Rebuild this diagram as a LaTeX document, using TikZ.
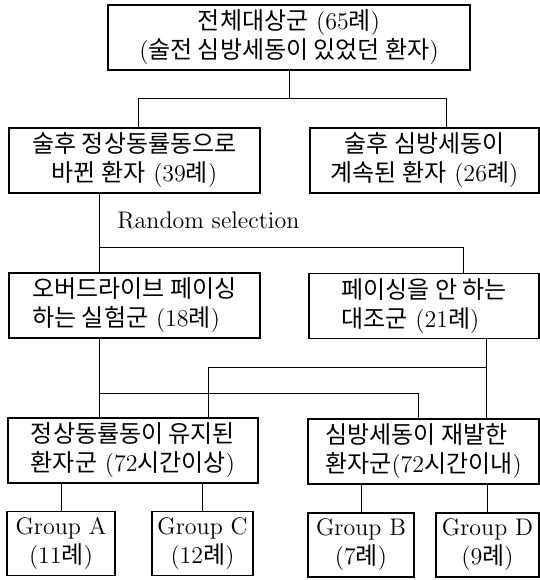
\documentclass[tikz,border=0pt]{standalone}
\usepackage{fontspec}
\newfontfamily\krfont{Noto Sans CJK KR}
\newcommand{\K}[1]{{\krfont #1}}
\tikzset{
  box/.style={draw, line width=0.65pt, inner sep=0pt, minimum height=32.5pt,
    align=center, font=\fontsize{12}{14.5}\selectfont},
  grp/.style={box, minimum height=32pt},
  wire/.style={line width=0.5pt}
}
\begin{document}
\begin{tikzpicture}[x=0.5pt,y=-0.5pt]
      \useasboundingbox (0,0) rectangle (540,580);
      \draw
        (289,37.5) node[box,minimum width=181pt] (all){\K{전체대상군} (65\K{례})\\(\K{술전 심방세동이 있었던 환자})}
        (134.5,160.5) node[box,minimum width=125.5pt] (conv){\K{술후 정상동률동으로}\\\K{바뀐 환자} (39\K{례})}
        (424.5,160.5) node[box,minimum width=114.5pt] (cont){\K{술후 심방세동이}\\\K{계속된 환자} (26\K{례})}
        (134.5,305.5) node[box,minimum width=125.5pt,align=left] (over){\K{오버드라이브 페이싱}\\\K{하는 실험군} (18\K{례})}
        (424,306) node[box,minimum width=115pt,align=left] (ctrl){\K{페이싱을 안 하는}\\\K{대조군} (21\K{례})}
        (133,450.5) node[box,minimum width=125pt] (sinus){\K{정상동률동이 유지된}\\\K{환자군} (72\K{시간이상})}
        (423.5,451.5) node[box,minimum width=115.5pt,align=left] (recur){\K{심방세동이 재발한}\\\K{환자군}(72\K{시간이내})}
        (61,543.5) node[grp,minimum width=54pt] (ga){Group A\\(11\K{례})}
        (202.5,543.5) node[grp,minimum width=50.5pt] (gc){Group C\\(12\K{례})}
        (361,545) node[grp,minimum width=53pt] (gb){Group B\\(7\K{례})}
        (487.5,545) node[grp,minimum width=51.5pt] (gd){Group D\\(9\K{례})};
      \node[anchor=base west, inner sep=0pt, font=\fontsize{12}{14.5}\selectfont] (rs) at (117,228) {Random selection};
      % branch points
      \coordinate (t1) at (138,98);
      \coordinate (t2) at (446,98);
      \coordinate (r1) at (99,247);
      \coordinate (r2) at (463,247);
      \coordinate (e1) at (99,393);
      \coordinate (e2) at (418,393);
      \coordinate (c1) at (486,367);
      \coordinate (c2) at (208,367);
      \begin{scope}[wire]
        \draw (all.south) to (all.south |- t1);
        \draw (t1) to (t2);
        \draw (t1) to (t1 |- conv.north);
        \draw (t2) to (t2 |- cont.north);
        \draw (r1 |- conv.south) to (r1 |- over.north);
        \draw (r1) -- (r2) -- (r2 |- ctrl.north);
        \draw (e1 |- over.south) to (e1 |- sinus.north);
        \draw (e1) -- (e2) -- (e2 |- recur.north);
        \draw (c1 |- ctrl.south) to (c1 |- recur.north);
        \draw (c1) -- (c2) -- (c2 |- sinus.north);
        \draw (ga.north) to (ga.north |- sinus.south);
        \draw (gc.north) to (gc.north |- sinus.south);
        \draw (gb.north) to (gb.north |- recur.south);
        \draw (gd.north) to (gd.north |- recur.south);
      \end{scope}
    \end{tikzpicture}
\end{document}
